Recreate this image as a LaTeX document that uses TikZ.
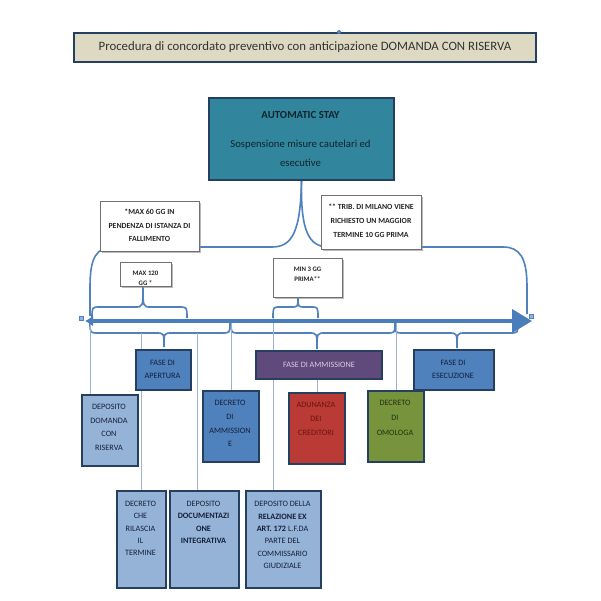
\documentclass[tikz,border=0pt]{standalone}
\usepackage{fontspec}
\setmainfont{Carlito}
\usetikzlibrary{arrows.meta,shadows,backgrounds}
\definecolor{titlefill}{HTML}{DDD9C3}
\definecolor{navy}{HTML}{243F60}
\definecolor{tealf}{HTML}{31859C}
\definecolor{midblue}{HTML}{4F81BD}
\definecolor{lightblue}{HTML}{95B3D7}
\definecolor{purplef}{HTML}{604A7B}
\definecolor{redf}{HTML}{BA3A35}
\definecolor{olivef}{HTML}{77933C}
\definecolor{connc}{HTML}{9DB4D0}
\definecolor{bracec}{HTML}{4F81BD}
\definecolor{arrowc}{HTML}{4A7EBB}
\definecolor{darktext}{HTML}{14203A}
\definecolor{stxt}{HTML}{10252C}
\definecolor{redtxt}{HTML}{6A1411}
\definecolor{olivetxt}{HTML}{26300F}
\definecolor{lavtxt}{HTML}{D8CCE6}
\definecolor{anngrey}{HTML}{707070}
\definecolor{handlec}{HTML}{8DB3E2}
\newcommand{\hbr}[7]{\draw[bracestyle] (#1,#4) .. controls (#1,#5) .. ({#1+#7},#5) -- ({#3-#7},#5) .. controls (#3,#5) .. (#3,#6) .. controls (#3,#5) .. ({#3+#7},#5) -- ({#2-#7},#5) .. controls (#2,#5) .. (#2,#4);}
\begin{document}
\begin{tikzpicture}[x=1pt,y=-1pt,
  box/.style={draw=navy, line width=2pt, inner sep=0pt, anchor=north west},
  ann/.style={draw=anngrey, line width=0.8pt, fill=white, inner sep=0pt, anchor=north west,
    drop shadow={shadow xshift=1.5pt, shadow yshift=-1.5pt, fill=black!45, opacity=0.6}},
  lbl/.style={align=center, inner sep=0pt},
  conn/.style={draw=connc, line width=0.8pt},
  bracestyle/.style={draw=bracec, line width=1.6pt},
  annfont/.style={font=\bfseries\fontsize{7.8}{#1}\selectfont, text=black!85},
  boxfont/.style={font=\fontsize{8.2}{#1}\selectfont},
  handle/.style={fill=handlec, draw=midblue, line width=0.4pt, minimum size=4pt, inner sep=0pt}
]
\useasboundingbox (0,0) rectangle (601,600);
% title
\node[box, fill=titlefill, minimum width=462pt, minimum height=29pt, font=\fontsize{12.8}{14}\selectfont, text=black!80] (title) at (73,32) {Procedura di concordato preventivo con anticipazione DOMANDA CON RISERVA};
\node[circle, fill=midblue, minimum size=4pt, inner sep=0pt] (tdot) at (339,32) {};
% automatic stay
\node[box, fill=tealf, minimum width=185pt, minimum height=82pt] (stay) at (208,97) {};
\node[lbl, font=\bfseries\fontsize{10.8}{12}\selectfont, text=stxt] (stayA) at (300.5,115) {AUTOMATIC STAY};
\node[lbl, font=\fontsize{10.7}{19}\selectfont, text=stxt] (stayB) at (300.5,153) {Sospensione misure cautelari ed\\esecutive};
% annotation boxes
\node[ann, minimum width=99pt, minimum height=50pt] (ann60) at (100,201) {};
\node[lbl, annfont=13.5] (ann60T) at (149.5,225.5) {*MAX 60 GG IN\\PENDENZA DI ISTANZA DI\\FALLIMENTO};
\node[ann, minimum width=100pt, minimum height=54pt] (trib) at (321,195) {};
\node[lbl, annfont=14] (tribT) at (371,221) {**~TRIB. DI MILANO VIENE\\RICHIESTO UN MAGGIOR\\TERMINE 10 GG PRIMA};
\node[ann, minimum width=51pt, minimum height=24pt] (max120) at (120,262) {};
\node[lbl, font=\bfseries\fontsize{6.8}{10}\selectfont, text=black!85] (max120T) at (145.5,278) {MAX 120\\GG *};
\node[ann, minimum width=69pt, minimum height=39pt] (min3) at (273,258) {};
\node[lbl, font=\bfseries\fontsize{6.8}{10}\selectfont, text=black!85] (min3T) at (307.5,274) {MIN 3 GG\\PRIMA**};
% phase boxes
\node[box, fill=midblue, minimum width=55pt, minimum height=40pt] (apertura) at (135,349) {};
\node[lbl, boxfont=13, text=darktext] (aperturaT) at (162.5,369.5) {FASE DI\\APERTURA};
\node[box, fill=purplef, minimum width=126pt, minimum height=28pt, font=\fontsize{8.2}{10}\selectfont, text=lavtxt] (ammissione) at (255,350) {FASE DI AMMISSIONE};
\node[box, fill=midblue, minimum width=80pt, minimum height=40pt] (esecuzione) at (413,349) {};
\node[lbl, boxfont=13, text=darktext] (esecuzioneT) at (453,369.5) {FASE DI\\ESECUZIONE};
% second row
\node[box, fill=lightblue, minimum width=56pt, minimum height=71pt] (depdom) at (81,394) {};
\node[lbl, boxfont=13.7, text=darktext] (depdomT) at (109,427.5) {DEPOSITO\\DOMANDA\\CON\\RISERVA};
\node[box, fill=midblue, minimum width=56pt, minimum height=71pt] (decamm) at (202,390) {};
\node[lbl, boxfont=13.7, text=darktext] (decammT) at (230,423.5) {DECRETO\\DI\\AMMISSION\\E};
\node[box, fill=redf, minimum width=56pt, minimum height=71pt] (adunanza) at (288,392) {};
\node[lbl, boxfont=14, text=redtxt] (adunanzaT) at (316,419) {ADUNANZA\\DEI\\CREDITORI};
\node[box, fill=olivef, minimum width=56pt, minimum height=71pt] (omologa) at (367,390) {};
\node[lbl, boxfont=15, text=olivetxt] (omologaT) at (395,418) {DECRETO\\DI\\OMOLOGA};
% third row
\node[box, fill=lightblue, minimum width=49pt, minimum height=97pt] (decche) at (116,490) {};
\node[lbl, boxfont=12.3, text=darktext] (deccheT) at (140.5,528.5) {DECRETO\\CHE\\RILASCIA\\IL\\TERMINE};
\node[box, fill=lightblue, minimum width=69pt, minimum height=97pt] (depdoc) at (169,490) {};
\node[lbl, boxfont=12.3, text=darktext] (depdocT) at (203.5,522.5) {DEPOSITO\\\textbf{DOCUMENTAZI}\\\textbf{ONE}\\\textbf{INTEGRATIVA}};
\node[box, fill=lightblue, minimum width=75pt, minimum height=97pt] (deprel) at (245,490) {};
\node[lbl, boxfont=12.4, text=darktext] (deprelT) at (282.5,535) {DEPOSITO DELLA\\\textbf{RELAZIONE EX}\\\textbf{ART. 172} L.F.DA\\PARTE DEL\\COMMISSARIO\\GIUDIZIALE};
% timeline coordinates
\coordinate (aL) at (85,321);
\coordinate (aR) at (532,321);
\coordinate (c1) at (90,321);
\coordinate (c2) at (141,333);
\coordinate (c3) at (197,333);
\coordinate (c4) at (231,322);
\coordinate (c5) at (273,318);
\coordinate (c7) at (396,322);
\begin{scope}[on background layer]
  \fill[white] (0,0) rectangle (601,600);
  % big brace from automatic stay
  \draw[bracestyle] (stay.south) .. controls (300.5,232) and (292,247) .. (272,247) -- (114,247)
     .. controls (96,247) and (90,258) .. (90,287) -- (90,316);
  \draw[bracestyle] (stay.south) .. controls (300.5,232) and (309,247) .. (329,247) -- (503,247)
     .. controls (520,247) and (527,258) .. (527,287) -- (527,314);
  % small braces above the timeline
  \hbr{92}{187}{143}{318}{307}{286}{8}
  \hbr{273}{318}{298}{318}{307}{297}{7}
  % braces below the timeline
  \hbr{90}{230}{164}{322}{333}{347}{8}
  \hbr{231}{395}{317}{322}{333}{349}{8}
  \hbr{395}{518}{457}{322}{333}{348}{8}
  % connectors
  \draw[conn] (c1) -- (c1 |- depdom.north);
  \draw[conn] (c2) -- (c2 |- decche.north);
  \draw[conn] (c3) -- (c3 |- depdoc.north);
  \draw[conn] (c4) -- (c4 |- decamm.north);
  \draw[conn] (c5) -- (c5 |- deprel.north);
  \draw[conn] (adunanza.north |- ammissione.south) -- (adunanza.north);
  \draw[conn] (c7) -- (c7 |- omologa.north);
  % timeline arrow
  \draw[draw=arrowc, line width=4pt, {Latex[length=8pt,width=11pt]}-{Triangle[length=20pt,width=23pt]}] (aL) -- (aR);
\end{scope}
\node[handle] (hL) at (81,318) {};
\node[handle] (hR) at (531,316) {};
\end{tikzpicture}
\end{document}
